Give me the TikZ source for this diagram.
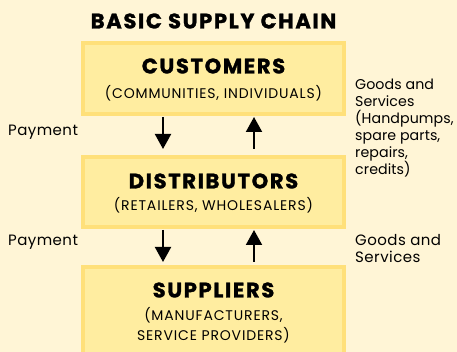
\documentclass[tikz,border=0pt]{standalone}
\usepackage{fontspec}
\setmainfont{Poppins}
\newfontfamily\tracked[LetterSpace=6]{Poppins}
\newfontfamily\sidefont[LetterSpace=3]{Poppins}
\newfontfamily\sidetight[LetterSpace=0.5]{Poppins}
\newfontfamily\heavy[LetterSpace=8, BoldFeatures={FakeBold=1.4}]{Poppins}
\usetikzlibrary{arrows.meta}
\definecolor{bgc}{HTML}{FFF5D6}
\definecolor{boxfill}{HTML}{FFEDA0}
\definecolor{boxline}{HTML}{FFE07A}
\tikzset{
  chainbox/.style={draw=boxline, fill=boxfill, line width=4pt, minimum width=261pt, inner sep=0pt},
  head/.style={font=\heavy\fontsize{21}{21}\selectfont\bfseries, inner sep=0pt},
  sub/.style={font=\tracked\fontsize{14}{14}\selectfont, inner sep=0pt},
  side/.style={font=\sidefont\fontsize{15}{17}\selectfont, inner sep=0pt, align=left},
  sidenarrow/.style={font=\sidetight\fontsize{14.2}{17}\selectfont, inner sep=0pt, align=left},
  flow/.style={line width=2pt, -{Triangle[width=16pt,length=15pt]}}
}
\begin{document}
\begin{tikzpicture}[x=1pt,y=-1pt]
\fill[bgc] (0,0) rectangle (457,352);
\useasboundingbox (0,0) rectangle (457,352);
\clip (0,0) rectangle (457,352);
\node[head] (title) at (213.5,21) {BASIC SUPPLY CHAIN};
\node[chainbox, minimum height=71pt] (cust) at (213.5,78.5) {};
\node[chainbox, minimum height=70pt] (dist) at (213.5,192) {};
\node[chainbox, minimum height=93pt] (supp) at (213.5,313.5) {};
\node[head] (custh) at (213.5,66) {CUSTOMERS};
\node[sub] (custs) at (213.5,93) {(COMMUNITIES, INDIVIDUALS)};
\node[head] (disth) at (213.5,181) {DISTRIBUTORS};
\node[sub] (dists) at (213.5,205) {(RETAILERS, WHOLESALERS)};
\node[head] (supph) at (213.5,290) {SUPPLIERS};
\node[sub] (supps1) at (213.5,315) {(MANUFACTURERS,};
\node[sub] (supps2) at (213.5,335) {SERVICE PROVIDERS)};
\node[side, anchor=west] (pay1) at (8,132) {Payment};
\node[side, anchor=west] (pay2) at (8,242) {Payment};
\node[sidenarrow, anchor=north west] (goods1) at (355,79) {Goods and\\Services\\(Handpumps,\\spare parts,\\repairs,\\credits)};
\node[side, anchor=north west] (goods2) at (355,234) {Goods and\\Services};
\draw[flow, shorten <=1pt, shorten >=6pt] ([xshift=-50.5pt]cust.south) -- ([xshift=-50.5pt]dist.north);
\draw[flow, shorten <=6pt, shorten >=1pt] ([xshift=40.5pt]dist.north) -- ([xshift=40.5pt]cust.south);
\draw[flow, shorten <=1pt, shorten >=3pt] ([xshift=-50.5pt]dist.south) -- ([xshift=-50.5pt]supp.north);
\draw[flow, shorten <=3pt, shorten >=1pt] ([xshift=40.5pt]supp.north) -- ([xshift=40.5pt]dist.south);
\end{tikzpicture}
\end{document}
